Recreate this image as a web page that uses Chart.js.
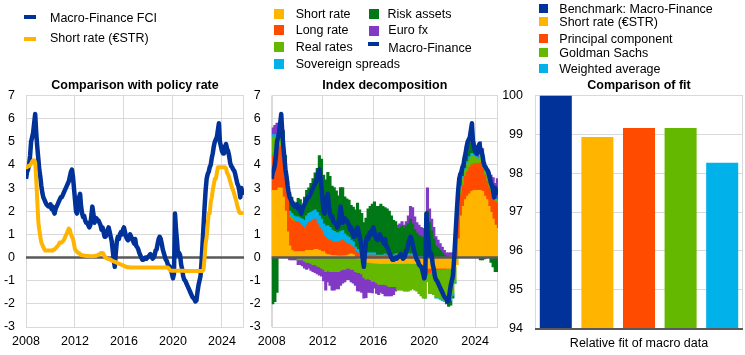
<!DOCTYPE html>
<html><head><meta charset="utf-8">
<script src="https://cdn.jsdelivr.net/npm/chart.js@4.4.1/dist/chart.umd.min.js"></script>
<style>
html,body{margin:0;padding:0;background:#fff;}
body{width:745px;height:355px;position:relative;overflow:hidden;font-family:"Liberation Sans",Arial,sans-serif;}
canvas{position:absolute;top:0;}
.lg{position:absolute;font-size:12.5px;line-height:15px;color:#000;white-space:nowrap;}
.mk{position:absolute;}
</style></head><body>
<canvas id="c1" width="255" height="355" style="left:0;width:255px;height:355px"></canvas>
<canvas id="c2" width="255" height="355" style="left:250px;width:255px;height:355px"></canvas>
<canvas id="c3" width="250" height="355" style="left:495px;width:250px;height:355px"></canvas>
<script>
// ---------------- DATA ----------------
const yearTicks = [2008, 2012, 2016, 2020, 2024];
const firstYear = 2008;

// Macro-Finance FCI, monthly, Jan 2008 - Oct 2025
const macroFinanceFCI = [
  3.4, 3.7, 3.8, 4.0, 4.4, 5.0, 5.2, 5.4, 5.8, 6.2, 5.4, 4.8,
  4.3, 3.8, 3.5, 3.1, 2.8, 2.6, 2.5, 2.4, 2.3, 2.25, 2.2, 2.2,
  2.3, 2.1, 2.2, 2.0, 1.9, 2.1, 2.2, 2.3, 2.4, 2.5, 2.6, 2.6,
  2.7, 2.8, 2.9, 3.0, 3.1, 3.2, 3.3, 3.5, 3.7, 3.8, 3.5, 3.0,
  2.5, 2.0, 1.9, 2.3, 2.6, 2.75, 2.2, 1.9, 1.75, 1.8, 1.6, 1.5,
  1.5, 1.4, 1.3, 1.4, 1.8, 2.2, 1.9, 1.5, 1.6, 1.7, 1.6, 1.6,
  1.5, 1.4, 1.2, 1.3, 1.1, 0.9, 0.9, 1.0, 1.2, 1.3, 1.1, 0.9,
  0.7, 0.3, -0.1, -0.4, 0.2, 0.7, 0.9, 0.8, 1.0, 1.1, 1.0, 1.2,
  1.3, 1.1, 0.9, 0.8, 0.75, 0.9, 1.0, 0.9, 0.8, 0.7, 0.6, 0.8,
  0.5, 0.45, 0.35, 0.2, 0.1, 0.0, -0.1, -0.1, -0.05, 0.0, -0.05, 0.0,
  0.05, 0.1, 0.15, 0.05, -0.05, 0.0, 0.1, 0.3, 0.35, 0.6, 0.8, 0.9,
  0.8, 0.6, 0.35, 0.2, 0.05, -0.1, -0.15, -0.3, -0.35, -0.4, -0.5, -0.7,
  -0.9, -0.7, 1.9, 1.2, 0.7, 0.1, 0.2, 0.1, -0.3, -0.5, -0.8, -0.95,
  -1.0, -1.1, -1.2, -1.3, -1.4, -1.5, -1.6, -1.7, -1.75, -1.8, -1.9, -1.85,
  -1.5, -1.2, -1.0, -0.8, -0.2, 0.6, 1.4, 2.2, 2.9, 3.4, 3.6, 3.7,
  3.9, 4.0, 4.3, 4.5, 4.8, 5.0, 5.1, 5.2, 5.5, 5.8, 5.0, 4.8,
  4.6, 4.5, 4.5, 4.8, 4.9, 4.7, 4.6, 4.4, 4.1, 3.95, 3.9, 3.8,
  3.75, 3.6, 3.4, 3.2, 3.1, 2.9, 2.6, 3.0, 2.8, 2.7
];

// Short rate (EONIA / €STR), monthly, Jan 2008 - Oct 2025
const shortRateESTR = [
  3.9, 3.9, 3.95, 3.95, 4.0, 4.05, 4.15, 4.2, 4.2, 4.1, 3.4, 2.5,
  1.6, 1.2, 0.9, 0.65, 0.55, 0.45, 0.35, 0.3, 0.3, 0.3, 0.3, 0.3,
  0.3, 0.3, 0.3, 0.35, 0.35, 0.4, 0.45, 0.5, 0.55, 0.65, 0.65, 0.65,
  0.7, 0.75, 0.85, 0.95, 1.05, 1.15, 1.25, 1.2, 1.0, 0.9, 0.8, 0.6,
  0.35, 0.3, 0.25, 0.2, 0.2, 0.15, 0.1, 0.1, 0.1, 0.08, 0.08, 0.07,
  0.07, 0.07, 0.06, 0.06, 0.06, 0.06, 0.06, 0.07, 0.07, 0.08, 0.1, 0.12,
  0.15, 0.18, 0.2, 0.2, 0.15, 0.05, 0.0, -0.03, -0.05, -0.07, -0.08, -0.1,
  -0.12, -0.15, -0.17, -0.18, -0.2, -0.22, -0.25, -0.27, -0.28, -0.3, -0.32, -0.34,
  -0.36, -0.38, -0.4, -0.41, -0.42, -0.42, -0.43, -0.43, -0.43, -0.43, -0.43, -0.43,
  -0.43, -0.43, -0.43, -0.43, -0.43, -0.43, -0.43, -0.43, -0.43, -0.43, -0.43, -0.43,
  -0.43, -0.43, -0.43, -0.43, -0.43, -0.43, -0.43, -0.43, -0.43, -0.43, -0.43, -0.43,
  -0.43, -0.43, -0.43, -0.43, -0.43, -0.43, -0.43, -0.43, -0.48, -0.55, -0.56, -0.57,
  -0.57, -0.57, -0.57, -0.57, -0.57, -0.57, -0.57, -0.57, -0.57, -0.57, -0.57, -0.57,
  -0.58, -0.58, -0.58, -0.58, -0.58, -0.58, -0.58, -0.58, -0.58, -0.58, -0.58, -0.58,
  -0.58, -0.58, -0.58, -0.58, -0.58, -0.58, -0.5, 0.0, 0.6, 0.9, 1.4, 1.9,
  1.9, 2.4, 2.6, 2.9, 3.15, 3.4, 3.4, 3.65, 3.9, 3.9, 3.9, 3.9,
  3.9, 3.9, 3.9, 3.9, 3.85, 3.65, 3.6, 3.45, 3.3, 3.15, 3.0, 2.9,
  2.75, 2.6, 2.45, 2.25, 2.1, 1.95, 1.92, 1.92, 1.92, 1.92
];

// Index decomposition: contributions, two-month periods, Jan-Feb 2008 - Sep-Oct 2025
const shortRateContrib = [
  2.9, 2.9, 2.9, 3.0, 3.0, 2.6,
  2.0, 1.1, 0.5, 0.3, 0.25, 0.25,
  0.25, 0.25, 0.25, 0.25, 0.3, 0.3,
  0.3, 0.3, 0.35, 0.35, 0.3, 0.25,
  0.25, 0.15, 0.12, 0.1, 0.08, 0.07,
  0.07, 0.06, 0.06, 0.06, 0.07, 0.08,
  0.12, 0.15, 0.12, 0.0, -0.03, -0.05,
  -0.1, -0.15, -0.18, -0.2, -0.2, -0.22,
  -0.22, -0.24, -0.25, -0.25, -0.25, -0.25,
  -0.25, -0.25, -0.25, -0.25, -0.25, -0.25,
  -0.25, -0.25, -0.25, -0.25, -0.25, -0.25,
  -0.25, -0.25, -0.25, -0.25, -0.3, -0.4,
  -0.45, -0.45, -0.45, -0.45, -0.45, -0.45,
  -0.45, -0.45, -0.45, -0.45, -0.45, -0.45,
  -0.45, -0.45, -0.45, -0.3, 0.8, 1.8,
  2.2, 2.5, 2.65, 2.75, 2.85, 2.9,
  2.9, 2.9, 2.9, 2.85, 2.65, 2.5,
  2.2, 1.95, 1.65, 1.4, 1.25
];
const longRateContrib = [
  1.5, 1.6, 1.7, 1.8, 1.8, 1.8,
  1.8, 1.8, 1.2, 1.3, 1.3, 1.3,
  1.3, 1.2, 1.1, 1.0, 1.1, 1.2,
  1.25, 1.3, 1.3, 1.1, 1.0, 0.9,
  0.7, 0.7, 0.65, 0.65, 0.6, 0.6,
  0.6, 0.6, 0.65, 0.7, 0.6, 0.5,
  0.45, 0.35, 0.3, 0.25, 0.2, 0.15,
  0.1, 0.05, 0.05, 0.1, 0.1, 0.1,
  0.1, 0.05, 0.05, 0.05, 0.05, 0.1,
  0.05, 0.05, 0.05, 0.05, 0.1, 0.1,
  0.1, 0.1, 0.1, 0.1, 0.1, 0.1,
  0.1, 0.05, 0.0, -0.05, -0.05, -0.05,
  -0.1, 0.1, -0.2, -0.1, -0.05, -0.05,
  -0.05, -0.05, -0.05, -0.05, 0.0, 0.0,
  0.05, 0.1, 0.3, 1.1, 1.3, 0.9,
  0.9, 1.0, 1.05, 1.15, 1.15, 1.15,
  1.15, 1.15, 1.2, 1.0, 0.9, 0.8,
  0.85, 0.9, 0.9, 1.0, 1.1
];
const realRatesContrib = [
  0.8, 0.7, 0.6, 0.5, 0.4, 0.4,
  0.2, 0.1, 0.1, 0.1, 0.05, 0.0,
  -0.1, -0.1, -0.1, -0.15, -0.2, -0.2,
  -0.25, -0.3, -0.3, -0.35, -0.4, -0.45,
  -0.5, -0.6, -0.55, -0.6, -0.6, -0.6,
  -0.6, -0.6, -0.55, -0.5, -0.5, -0.45,
  -0.45, -0.5, -0.5, -0.6, -0.6, -0.6,
  -0.6, -0.7, -0.75, -0.7, -0.75, -0.8,
  -0.8, -0.85, -0.9, -0.9, -0.9, -0.9,
  -0.95, -1.0, -1.0, -1.0, -1.0, -1.15,
  -1.15, -1.15, -1.2, -1.2, -1.2, -1.15,
  -1.1, -1.15, -1.2, -1.25, -1.3, -1.3,
  -1.2, -0.6, -0.9, -1.0, -1.1, -1.2,
  -1.2, -1.25, -1.3, -1.35, -1.4, -1.4,
  -1.3, -1.1, -0.6, 0.1, 0.3, 0.3,
  0.3, 0.25, 0.35, 0.35, 0.4, 0.3,
  0.25, 0.2, 0.3, 0.25, 0.2, 0.2,
  0.2, 0.15, 0.15, 0.1, 0.1
];
const sovereignContrib = [
  0.1, 0.1, 0.1, 0.1, 0.2, 0.2,
  0.1, 0.1, 0.2, 0.2, 0.2, 0.2,
  0.2, 0.25, 0.3, 0.35, 0.4, 0.4,
  0.4, 0.4, 0.4, 0.5, 0.5, 0.5,
  0.5, 0.5, 0.6, 0.55, 0.5, 0.45,
  0.4, 0.4, 0.4, 0.4, 0.35, 0.35,
  0.3, 0.25, 0.25, 0.2, 0.15, 0.1,
  0.1, 0.05, 0.05, 0.1, 0.1, 0.1,
  0.1, 0.05, 0.05, 0.05, 0.05, 0.05,
  0.05, 0.05, 0.05, 0.05, 0.05, 0.05,
  0.05, 0.05, 0.05, 0.05, 0.05, 0.05,
  0.05, 0.05, 0.05, 0.05, 0.05, 0.05,
  0.0, 0.1, 0.1, 0.05, 0.0, -0.05,
  -0.05, -0.05, -0.05, -0.05, -0.05, -0.05,
  -0.1, -0.1, -0.05, 0.1, 0.1, 0.1,
  0.1, 0.1, 0.1, 0.1, 0.1, 0.1,
  0.05, 0.05, 0.05, 0.05, 0.05, 0.05,
  0.05, 0.05, 0.05, 0.05, 0.05
];
const riskAssetsContrib = [
  -2.0, -1.9, -1.5, 0.0, 0.3, 0.4,
  0.3, 0.2, 0.8, 0.7, 0.6, 0.5,
  0.8, 0.8, 0.6, 1.0, 1.1, 1.1,
  1.25, 1.4, 1.6, 1.9, 2.6, 2.6,
  2.1, 2.0, 2.3, 2.2, 1.9, 1.9,
  1.8, 1.6, 1.9, 1.85, 1.6, 1.6,
  1.6, 1.5, 1.5, 1.6, 2.0, 1.8,
  1.7, 1.4, 1.6, 1.9, 2.0, 2.1,
  2.2, 2.1, 2.1, 2.2, 2.1, 2.0,
  2.0, 1.9, 1.7, 1.5, 1.4, 1.1,
  1.1, 1.2, 1.1, 1.2, 1.3, 1.5,
  1.3, 1.1, 1.0, 0.9, 0.85, 0.8,
  0.6, 1.8, 1.4, 1.1, 0.8, 0.5,
  0.4, 0.3, 0.2, 0.1, -0.1, -0.2,
  -0.2, -0.1, 0.0, 0.2, 0.2, 0.3,
  0.25, 0.3, 0.45, 0.55, 0.7, 0.35,
  0.15, 0.0, -0.1, -0.1, -0.05, 0.0,
  0.0, -0.2, -0.4, -0.6, -0.6
];
const euroFxContrib = [
  0.3, 0.4, 0.5, 0.4, 0.3, 0.1,
  0.0, 0.0, -0.1, -0.1, -0.1, -0.1,
  -0.2, -0.2, -0.25, -0.3, -0.3, -0.25,
  -0.3, -0.3, -0.35, -0.35, -0.35, -0.35,
  -0.5, -0.8, -0.5, -0.6, -0.8, -0.8,
  -0.75, -0.75, -0.65, -0.6, -0.55, -0.5,
  -0.5, -0.55, -0.6, -0.6, -0.8, -0.8,
  -0.8, -0.9, -0.8, -0.6, -0.55, -0.5,
  -0.3, -0.45, -0.45, -0.35, -0.4, -0.5,
  -0.45, -0.4, -0.4, -0.35, -0.2, 0.15,
  0.2, 0.2, 0.15, 0.2, 0.35, 0.55,
  0.7, 0.55, 0.45, 0.45, 0.4, 0.4,
  0.35, 1.0, 0.6, 0.5, 0.5, 0.4,
  0.35, 0.3, 0.25, 0.2, 0.2, 0.2,
  0.15, 0.1, 0.1, 0.1, 0.2, 0.2,
  0.15, 0.15, 0.2, 0.2, 0.3, 0.2,
  0.1, 0.2, 0.55, 0.55, 0.3, 0.3,
  0.4, 0.5, 0.7, 0.65, 0.9
];

// Comparison of fit
const fitCategories = ['Benchmark: Macro-Finance', 'Short rate (€STR)', 'Principal component', 'Goldman Sachs', 'Weighted average'];
const fitValues = [100, 98.93, 99.16, 99.16, 98.27];

// ---------------- STYLE ----------------
const C = {blue:'#003299', yellow:'#FFB400', orange:'#FF4B00', lgreen:'#65B800', cyan:'#00B1EA', dgreen:'#007816', purple:'#8139C6', grid:'#d9d9d9', axis:'#595959'};
const fitColors = [C.blue, C.yellow, C.orange, C.lgreen, C.cyan];

Chart.defaults.font.family = '"Liberation Sans", Arial, sans-serif';
Chart.defaults.font.size = 12.5;
Chart.defaults.color = '#000';
Chart.defaults.animation = false;
Chart.defaults.plugins.legend.display = false;
Chart.defaults.plugins.tooltip.enabled = false;

const monthX = macroFinanceFCI.map((_, i) => firstYear + i / 12);
const decompX = shortRateContrib.map((_, k) => firstYear + k / 6 + 1 / 12);
const fciPts = macroFinanceFCI.map((v, i) => ({x: monthX[i], y: v}));
const strPts = shortRateESTR.map((v, i) => ({x: monthX[i], y: v}));

// frame (left/right edges) plugin
const framePlugin = {
  id: 'frame',
  beforeDatasetsDraw(chart) {
    const {ctx, chartArea: a} = chart;
    ctx.save();
    ctx.strokeStyle = C.grid; ctx.lineWidth = 1;
    ctx.beginPath();
    const xl = Math.round(a.left) + 0.5, xr = Math.round(a.right) - 0.5;
    ctx.moveTo(xl, a.top); ctx.lineTo(xl, a.bottom);
    ctx.moveTo(xr, a.top); ctx.lineTo(xr, a.bottom);
    ctx.stroke();
    ctx.restore();
  }
};
// zero line drawn just before a given dataset
const zeroLinePlugin = {
  id: 'zeroLine',
  beforeDatasetDraw(chart, args, opts) {
    if (opts.before !== args.index) return;
    const {ctx, chartArea: a} = chart;
    const y = chart.scales.y.getPixelForValue(0);
    ctx.save();
    ctx.strokeStyle = C.axis; ctx.lineWidth = 2.5;
    ctx.beginPath(); ctx.moveTo(a.left, y); ctx.lineTo(a.right, y); ctx.stroke();
    ctx.restore();
  }
};
const baseLinePlugin = {
  id: 'baseLine',
  afterDatasetsDraw(chart) {
    const {ctx, chartArea: a} = chart;
    ctx.save();
    ctx.strokeStyle = C.axis; ctx.lineWidth = 2;
    ctx.beginPath(); ctx.moveTo(a.left, a.bottom + 0.5); ctx.lineTo(a.right, a.bottom + 0.5); ctx.stroke();
    ctx.restore();
  }
};

function titleOpts(text) {
  return {display: true, text, fullSize: false, color: '#000',
          font: {size: 12.5, weight: 'bold'}, padding: {top: 0, bottom: 2}};
}
function timeX() {
  return {type: 'linear', min: 2008, max: 2025.8, offset: false,
    afterFit: s => { s.height = 28; },
    ticks: {stepSize: 4, includeBounds: false, autoSkip: false, maxRotation: 0, padding: 7,
            callback: v => yearTicks.includes(v) ? String(v) : ''},
    grid: {color: C.grid, lineWidth: 1, drawTicks: false, offset: false},
    border: {display: false}};
}
function rateY(width) {
  return {min: -3, max: 7, afterFit: s => { s.width = width; },
    ticks: {stepSize: 1, padding: 11, callback: v => String(v)},
    grid: {color: C.grid, lineWidth: 1, drawTicks: false},
    border: {display: false}};
}

// ---------------- CHART 1 ----------------
new Chart(document.getElementById('c1'), {
  type: 'line',
  data: {datasets: [
    {label: 'Macro-Finance FCI', data: fciPts, borderColor: C.blue, borderWidth: 4.5, pointRadius: 0, order: 2, borderJoinStyle: 'round'},
    {label: 'Short rate (€STR)', data: strPts, borderColor: C.yellow, borderWidth: 4, pointRadius: 0, order: 1, borderJoinStyle: 'round'}
  ]},
  options: {
    responsive: false, devicePixelRatio: 1,
    layout: {padding: {top: 78.5, left: 0, right: 11, bottom: 0}},
    plugins: {title: titleOpts('Comparison with policy rate'), zeroLine: {before: 0}},
    scales: {x: timeX(), y: rateY(26)}
  },
  plugins: [framePlugin, zeroLinePlugin]
});

// ---------------- CHART 2 ----------------
const compSeries = [
  {label: 'Short rate', data: shortRateContrib, color: C.yellow},
  {label: 'Long rate', data: longRateContrib, color: C.orange},
  {label: 'Real rates', data: realRatesContrib, color: C.lgreen},
  {label: 'Sovereign spreads', data: sovereignContrib, color: C.cyan},
  {label: 'Risk assets', data: riskAssetsContrib, color: C.dgreen},
  {label: 'Euro fx', data: euroFxContrib, color: C.purple}
];
const x2 = timeX(); x2.stacked = true;
const y2 = rateY(21.7); y2.stacked = true;
new Chart(document.getElementById('c2'), {
  type: 'bar',
  data: {datasets: compSeries.map(s => ({
      type: 'bar', label: s.label, data: s.data.map((v, k) => ({x: decompX[k], y: v})),
      backgroundColor: s.color, borderWidth: 0, barPercentage: 1, categoryPercentage: 1,
      inflateAmount: 0.5, order: 2
    })).concat([{type: 'line', label: 'Macro-Finance', data: fciPts, borderColor: C.blue,
      borderWidth: 4.5, pointRadius: 0, order: 1, borderJoinStyle: 'round'}])},
  options: {
    responsive: false, devicePixelRatio: 1,
    layout: {padding: {top: 78.5, left: 0, right: 7, bottom: 0}},
    plugins: {title: titleOpts('Index decomposition'), zeroLine: {before: 6}},
    scales: {x: x2, y: y2}
  },
  plugins: [framePlugin, zeroLinePlugin]
});

// ---------------- CHART 3 ----------------
new Chart(document.getElementById('c3'), {
  type: 'bar',
  data: {labels: fitCategories, datasets: [{label: 'Relative fit', data: fitValues, backgroundColor: fitColors,
    borderWidth: 0, barPercentage: 0.77, categoryPercentage: 1}]},
  options: {
    responsive: false, devicePixelRatio: 1,
    layout: {padding: {top: 78.5, left: 0, right: 2, bottom: 0}},
    plugins: {title: titleOpts('Comparison of fit')},
    scales: {
      x: {grid: {display: false}, border: {display: false}, ticks: {display: false},
          afterFit: s => { s.height = 26.5; },
          title: {display: true, text: 'Relative fit of macro data', color: '#000', font: {size: 12.5}, padding: {top: 0, bottom: 4}}},
      y: {min: 94, max: 100, beginAtZero: false, afterFit: s => { s.width = 40; },
          ticks: {stepSize: 1, padding: 12, callback: v => String(v)},
          grid: {color: C.grid, lineWidth: 1, drawTicks: false}, border: {display: false}}
    }
  },
  plugins: [framePlugin, baseLinePlugin]
});

// ---------------- LEGENDS (HTML) ----------------
function addLegend(items) {
  items.forEach(it => {
    const m = document.createElement('div'); m.className = 'mk';
    m.style.cssText = `left:${it.m[0]}px;top:${it.m[1]}px;width:${it.m[2]}px;height:${it.m[3]}px;background:${it.color}`;
    document.body.appendChild(m);
    const t = document.createElement('div'); t.className = 'lg'; t.textContent = it.label;
    t.style.left = it.t[0] + 'px'; t.style.top = it.t[1] + 'px';
    document.body.appendChild(t);
  });
}
addLegend([
  {label: 'Macro-Finance FCI', color: C.blue, m: [24, 15, 12, 4], t: [50, 11.2]},
  {label: 'Short rate (€STR)', color: C.yellow, m: [24, 36.5, 12, 4], t: [50, 31.2]}
]);
addLegend([
  {label: compSeries[0].label, color: C.yellow, m: [274, 9.3, 10, 10], t: [295.7, 7.1]},
  {label: compSeries[1].label, color: C.orange, m: [274, 25, 10, 10], t: [295.7, 22.7]},
  {label: compSeries[2].label, color: C.lgreen, m: [274, 42, 10, 10], t: [295.7, 40]},
  {label: compSeries[3].label, color: C.cyan, m: [274, 59.3, 10, 10], t: [295.7, 57]},
  {label: compSeries[4].label, color: C.dgreen, m: [369, 9.3, 10, 10], t: [387.5, 7.1]},
  {label: compSeries[5].label, color: C.purple, m: [369, 25.7, 10, 10], t: [388.3, 23.4]},
  {label: 'Macro-Finance', color: C.blue, m: [368, 42.3, 11, 3.5], t: [388.3, 40.7]}
]);
addLegend(fitCategories.map((lab, i) => ({
  label: lab, color: fitColors[i],
  m: [538.5, [4.3, 17.3, 34.3, 48.3, 64.3][i], 9.5, 8.5],
  t: [559.3, [1.7, 15, 31.7, 45.7, 61.7][i]]
})));
</script>
</body></html>
